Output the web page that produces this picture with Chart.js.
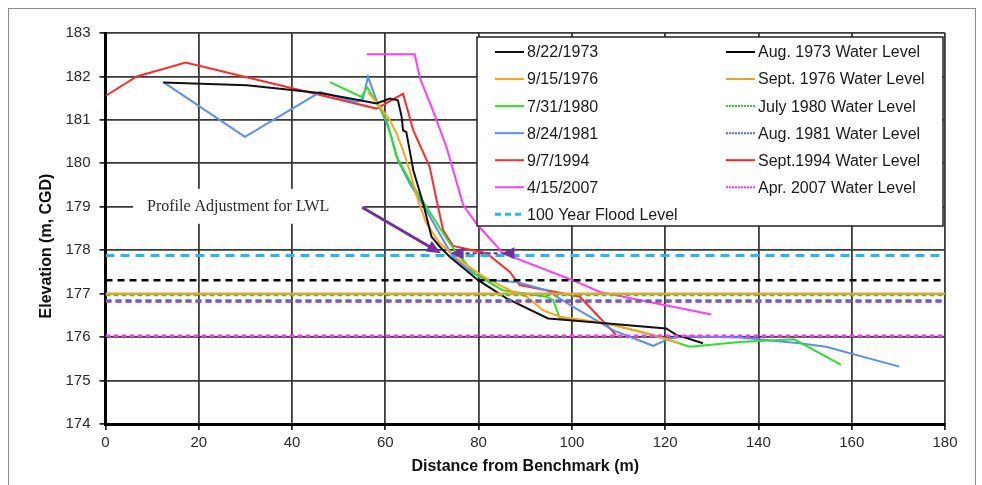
<!DOCTYPE html>
<html>
<head>
<meta charset="utf-8">
<script src="https://cdn.jsdelivr.net/npm/chart.js@4.4.1/dist/chart.umd.min.js"></script>
<style>
  html, body { margin: 0; padding: 0; background: #fff; overflow: hidden; }
  #wrap { position: relative; width: 982px; height: 485px; }
  #frame { position: absolute; left: 8px; top: 8px; width: 966px; height: 520px; border: 1.5px solid #8c8c8c; }
  canvas { position: absolute; left: 0; top: 0; }
</style>
</head>
<body>
<div id="wrap">
  <div id="frame"></div>
  <canvas id="myChart" width="982" height="485"></canvas>
</div>
<script>
// survey profiles (distance m, elevation m CGD)
const dist1973 = [12.4, 30.3, 46.0, 54.5, 58.1, 61.0, 62.7, 63.5, 63.8, 64.5, 66.0, 68.1, 69.9, 71.7, 73.8, 79.9, 86.0, 94.9, 99.5, 120.2, 122.4, 128.1];
const elev1973 = [181.86, 181.80, 181.62, 181.45, 181.38, 181.49, 181.45, 181.07, 180.76, 180.72, 179.84, 179.08, 178.31, 178.08, 177.85, 177.31, 176.89, 176.43, 176.39, 176.20, 176.05, 175.86];

const dist1976 = [56.3, 58.5, 61.0, 62.4, 63.8, 65.2, 67.0, 68.8, 71.7, 75.9, 81.7, 87.4, 90.3, 93.8, 97.4, 107.4, 117.4, 123.1];
const elev1976 = [181.64, 181.35, 180.99, 180.69, 180.30, 179.84, 179.15, 178.62, 178.16, 177.77, 177.35, 177.04, 176.93, 176.62, 176.47, 176.32, 176.05, 175.86];

const dist1980 = [48.1, 54.9, 56.1, 58.1, 60.3, 62.4, 65.2, 68.8, 72.4, 73.8, 76.0, 79.5, 85.2, 94.5, 96.0, 97.4, 107.4, 117.4, 125.3, 136.0, 147.7, 157.7];
const elev1980 = [181.87, 181.53, 181.75, 181.41, 180.99, 180.15, 179.61, 179.00, 178.39, 178.16, 177.85, 177.43, 177.08, 176.93, 176.85, 176.43, 176.32, 176.05, 175.78, 175.89, 175.95, 175.36];

const dist1981 = [12.4, 29.9, 46.0, 53.8, 55.2, 56.3, 58.1, 60.3, 61.3, 62.7, 65.2, 68.8, 72.0, 74.5, 78.8, 82.4, 88.1, 94.5, 100.2, 108.8, 117.4, 121.0, 124.5, 136.0, 148.8, 154.5, 170.2];
const elev1981 = [181.87, 180.61, 181.64, 181.41, 181.49, 181.99, 181.45, 180.92, 180.61, 180.07, 179.54, 178.92, 178.31, 177.85, 177.47, 177.31, 177.27, 177.08, 176.70, 176.16, 175.80, 175.97, 176.02, 175.99, 175.86, 175.78, 175.32];

const dist1994 = [0, 6.7, 17.2, 58.1, 63.8, 66.0, 69.5, 71.3, 72.4, 74.5, 81.7, 86.7, 88.8, 101.7, 109.5];
const elev1994 = [181.55, 182.0, 182.32, 181.26, 181.6, 180.76, 179.92, 179.0, 178.46, 178.10, 177.93, 177.5, 177.2, 176.93, 176.05];

const dist2007 = [56.0, 66.3, 67.4, 70.2, 73.1, 76.7, 79.5, 85.2, 100.2, 106.0, 129.9];
const elev2007 = [182.51, 182.51, 181.97, 181.22, 180.38, 179.04, 178.62, 177.93, 177.31, 177.04, 176.52];

const profileLabels = ['8/22/1973', '9/15/1976', '7/31/1980', '8/24/1981', '9/7/1994', '4/15/2007'];
const profileColors = ['#111111', '#ffa31a', '#2ee02e', '#5a8ef0', '#ff2a2a', '#ff3cff'];

// water levels
const levelLabels = ['Aug. 1973 Water Level', 'Sept. 1976 Water Level', 'July 1980 Water Level', 'Aug. 1981 Water Level', 'Sept.1994 Water Level', 'Apr. 2007 Water Level'];
const levelValues = [177.31, 177.0, 176.97, 176.84, 176.82, 176.03];
const levelColors = ['#000000', '#e6a030', '#33cc33', '#4a6ee8', '#ff2020', '#ff33ff'];

const floodLabel = '100 Year Flood Level';
const floodLevel = 177.88;

// annotation (data units)
const noteText = 'Profile Adjustment for LWL';
const notePos = [8.9, 179.0];
const arrowFrom = [55.0, 178.99];
const arrowTo = [71.9, 177.93];
const spanArrow = [74.0, 84.9, 177.93];

const xMin = 0, xMax = 180;

const profiles = [
    [dist1973, elev1973], [dist1976, elev1976], [dist1980, elev1980],
    [dist1981, elev1981], [dist1994, elev1994], [dist2007, elev2007]
];

const datasets = [];
profiles.forEach(([xs, ys], i) => {
    datasets.push({
        label: profileLabels[i],
        data: xs.map((x, k) => ({ x: x, y: ys[k] })),
        borderColor: profileColors[i],
        borderWidth: 2,
        legendDash: [],
        legendWidth: 2,
        order: 2
    });
});
datasets.push({
    label: floodLabel,
    data: [{ x: xMin, y: floodLevel }, { x: xMax - 1, y: floodLevel }],
    borderColor: '#29b6f0',
    borderWidth: 3,
    borderDash: [9, 6],
    legendDash: [6, 4],
    legendWidth: 3,
    order: 1
});
const levelDash = [[7, 5], [], [5, 3], [6, 4], [6, 4], [5, 3]];
const levelLegendDash = [[], [], [2, 1], [2, 1], [], [2, 1]];
levelLabels.forEach((lbl, i) => {
    datasets.push({
        label: lbl,
        data: [{ x: xMin, y: levelValues[i] }, { x: xMax, y: levelValues[i] }],
        borderColor: levelColors[i],
        borderWidth: 2.5,
        borderDash: levelDash[i],
        legendDash: levelLegendDash[i],
        legendWidth: 2,
        order: 1
    });
});

function arrowHead(ctx, tx, ty, ang, len, half) {
    ctx.beginPath();
    ctx.moveTo(tx, ty);
    ctx.lineTo(tx - len * Math.cos(ang) + half * Math.sin(ang), ty - len * Math.sin(ang) - half * Math.cos(ang));
    ctx.lineTo(tx - len * Math.cos(ang) - half * Math.sin(ang), ty - len * Math.sin(ang) + half * Math.cos(ang));
    ctx.closePath();
    ctx.fill();
}

const extrasPlugin = {
    id: 'extras',
    beforeDatasetsDraw(chart) {
        const { ctx, scales: { x, y } } = chart;
        ctx.save();
        ctx.font = '16px "Liberation Serif", "Times New Roman", serif';
        const px = x.getPixelForValue(notePos[0]);
        const py = y.getPixelForValue(notePos[1]);
        const w = ctx.measureText(noteText).width;
        ctx.fillStyle = '#fff';
        ctx.fillRect(px - 14, py - 18, w + 49, 35);
        ctx.fillStyle = '#2a2a2a';
        ctx.textBaseline = 'middle';
        ctx.fillText(noteText, px, py);
        ctx.restore();
    },
    afterDatasetsDraw(chart) {
        const { ctx, scales: { x, y } } = chart;
        ctx.save();
        // arrows
        ctx.strokeStyle = '#7030a0';
        ctx.fillStyle = '#7030a0';
        const x0 = x.getPixelForValue(arrowFrom[0]), y0 = y.getPixelForValue(arrowFrom[1]);
        const x1 = x.getPixelForValue(arrowTo[0]), y1 = y.getPixelForValue(arrowTo[1]);
        const ang = Math.atan2(y1 - y0, x1 - x0);
        ctx.lineWidth = 3;
        ctx.beginPath();
        ctx.moveTo(x0, y0);
        ctx.lineTo(x1 - 10 * Math.cos(ang), y1 - 10 * Math.sin(ang));
        ctx.stroke();
        arrowHead(ctx, x1, y1, ang, 14, 6);
        const sa = x.getPixelForValue(spanArrow[0]), sb = x.getPixelForValue(spanArrow[1]);
        const sy = y.getPixelForValue(spanArrow[2]);
        ctx.lineWidth = 2;
        ctx.setLineDash([4, 3]);
        ctx.beginPath();
        ctx.moveTo(sa + 8, sy);
        ctx.lineTo(sb, sy);
        ctx.stroke();
        ctx.setLineDash([]);
        arrowHead(ctx, sa, sy, Math.PI, 13, 6);
        arrowHead(ctx, sb, sy, Math.PI, 13, 6);

        // legend box
        const bx = 477, by = 37, bw = 466, bh = 189;
        ctx.fillStyle = '#fff';
        ctx.fillRect(bx, by, bw, bh);
        ctx.strokeStyle = '#222';
        ctx.lineWidth = 1.5;
        ctx.strokeRect(bx, by, bw, bh);
        ctx.font = '16px "Liberation Sans", Arial, sans-serif';
        ctx.textBaseline = 'middle';
        chart.data.datasets.forEach((ds, i) => {
            const col = i < 7 ? 0 : 1;
            const row = i < 7 ? i : i - 7;
            const ly = 52 + row * 27.05;
            const lx = col === 0 ? 495 : 726;
            ctx.strokeStyle = ds.borderColor;
            ctx.lineWidth = ds.legendWidth;
            ctx.setLineDash(ds.legendDash);
            ctx.beginPath();
            ctx.moveTo(lx, ly);
            ctx.lineTo(lx + 29, ly);
            ctx.stroke();
            ctx.setLineDash([]);
            ctx.fillStyle = '#1a1a1a';
            ctx.fillText(ds.label, lx + 32, ly + 1);
        });

        // y axis title
        ctx.font = 'bold 16px "Liberation Sans", Arial, sans-serif';
        ctx.fillStyle = '#111';
        ctx.textAlign = 'center';
        ctx.translate(47, 246);
        ctx.rotate(-Math.PI / 2);
        ctx.fillText('Elevation (m, CGD)', 0, 0);
        ctx.restore();
    }
};

const gridStyle = {
    color: '#3a3a3a',
    lineWidth: 1.8,
    borderDash: [1.5, 1.5],
    tickLength: 6,
    tickColor: '#000',
    tickWidth: 1.5,
    tickBorderDash: []
};

const tickFont = { family: '"Liberation Sans", Arial, sans-serif', size: 15 };

new Chart(document.getElementById('myChart').getContext('2d'), {
    type: 'scatter',
    data: { datasets: datasets },
    options: {
        responsive: false,
        animation: false,
        devicePixelRatio: 1,
        showLine: true,
        elements: { point: { radius: 0, hoverRadius: 0 }, line: { tension: 0 } },
        layout: { padding: { top: 33, right: 37, left: 0, bottom: 0 } },
        plugins: { legend: { display: false }, tooltip: { enabled: false } },
        scales: {
            x: {
                type: 'linear',
                min: xMin,
                max: xMax,
                ticks: { stepSize: 20, padding: 4, color: '#2a2a2a', font: tickFont },
                grid: gridStyle,
                border: { color: '#000', width: 3 },
                title: {
                    display: true,
                    text: 'Distance from Benchmark (m)',
                    color: '#111',
                    font: { family: '"Liberation Sans", Arial, sans-serif', size: 16, weight: 'bold' },
                    padding: { top: 0, bottom: 9 }
                },
                afterFit: (scale) => { scale.height = 61; }
            },
            y: {
                type: 'linear',
                min: 174,
                max: 183,
                ticks: { stepSize: 1, padding: 9, color: '#2a2a2a', font: tickFont },
                grid: gridStyle,
                border: { color: '#000', width: 3 },
                afterFit: (scale) => { scale.width = 105.5; }
            }
        }
    },
    plugins: [extrasPlugin]
});
</script>
</body>
</html>
